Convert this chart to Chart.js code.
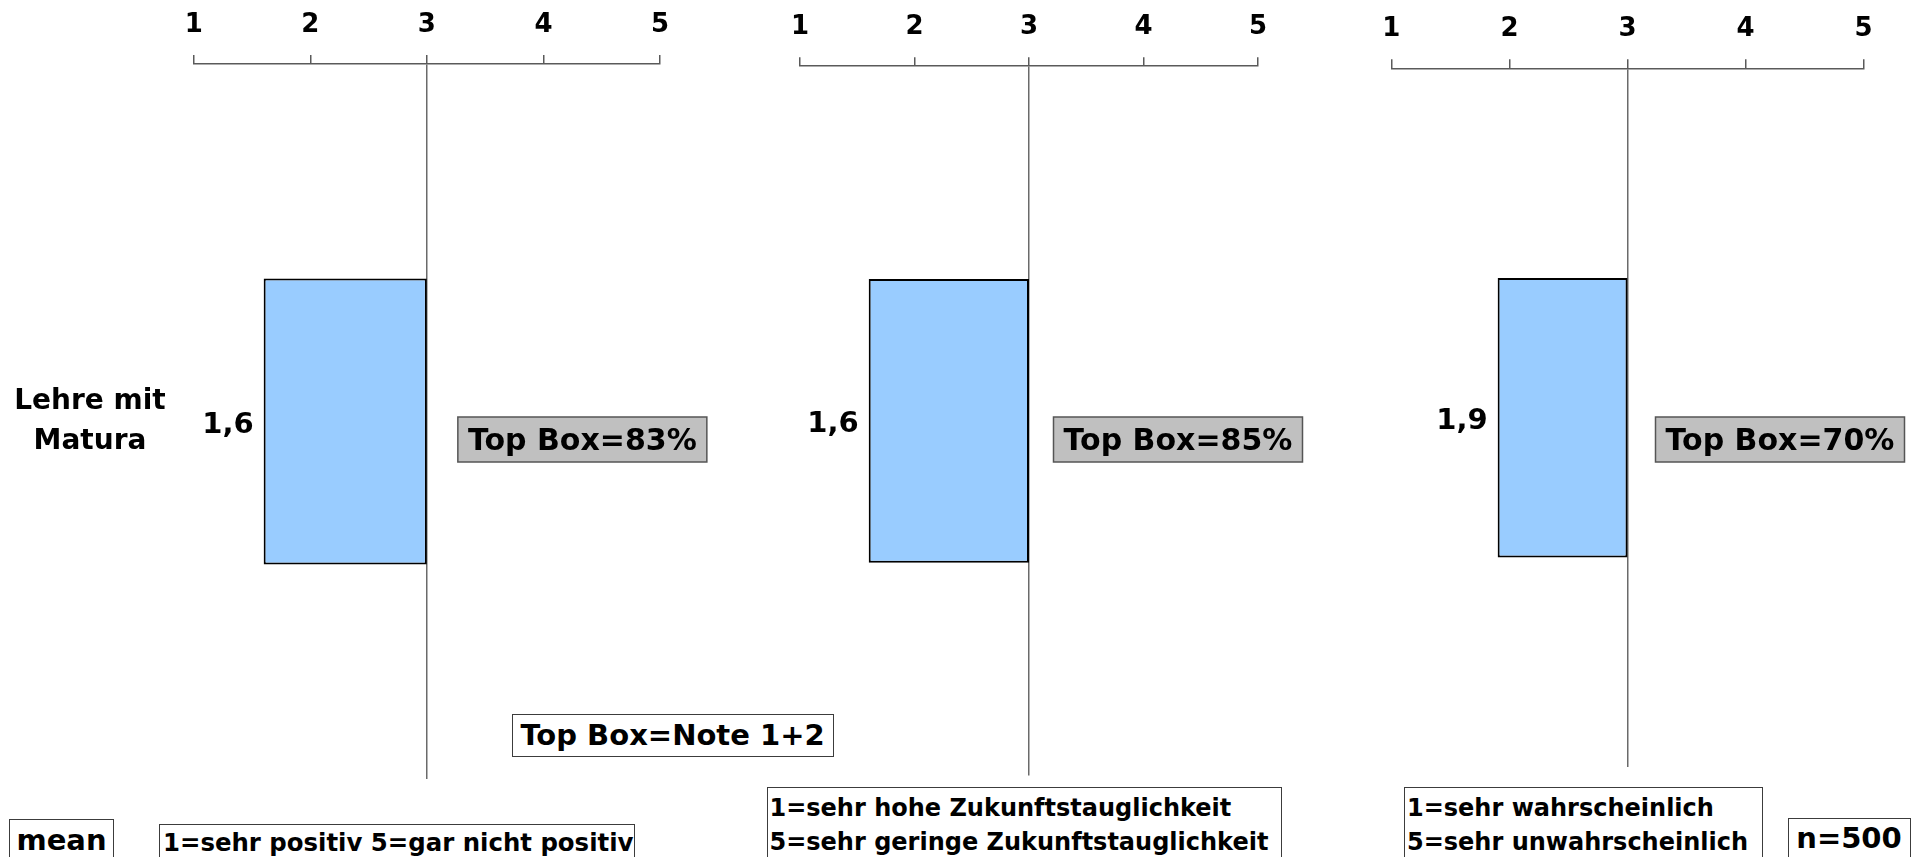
<!DOCTYPE html>
<html>
<head>
<meta charset="utf-8">
<script src="https://cdn.jsdelivr.net/npm/chart.js@4.4.1/dist/chart.umd.min.js"></script>
<style>
  html, body { margin: 0; padding: 0; background: #fff; }
  body { width: 1912px; height: 857px; overflow: hidden; position: relative;
         font-family: "DejaVu Sans", sans-serif; font-weight: bold; color: #000; }
  canvas { position: absolute; }
  .box { position: absolute; box-sizing: border-box; border: 1px solid #3c3c3c; background: #fff; }
  .txt { position: absolute; white-space: nowrap; }
</style>
</head>
<body>
<canvas id="p0"></canvas>
<canvas id="p1"></canvas>
<canvas id="p2"></canvas>
<script>
// ---- data ----
const categoryLabel = ['Lehre mit', 'Matura'];      // one category, shown on two lines
const scaleTicks = [1, 2, 3, 4, 5];                  // rating scale 1..5
const scaleMid = 3;                                  // bars run from the mean to the scale midpoint
const panelMeans = [1.6, 1.6, 1.9];                  // mean rating per question
const topBoxShares = [83, 85, 70];                   // % giving grade 1 or 2
const scaleNotes = [
  ['1=sehr positiv 5=gar nicht positiv'],
  ['1=sehr hohe Zukunftstauglichkeit', '5=sehr geringe Zukunftstauglichkeit'],
  ['1=sehr wahrscheinlich', '5=sehr unwahrscheinlich']
];
const topBoxNote = 'Top Box=Note 1+2';
const meanNote = 'mean';
const sampleNote = 'n=500';

// ---- layout of the three panels ----
const FONT = '"DejaVu Sans"';
const canvasTop = -12;   // canvases start a little above the page so the tick labels sit high
const panelLayout = [
  { left: 0,    width: 720, height: 791, padTop: 7.7,  padBottom: 0,   padLeft: 0,    padRight: 60,   yWidth: 193.7, boxGap: 31 },
  { left: 760,  width: 560, height: 788, padTop: 10.0, padBottom: 0.5, padLeft: 40,   padRight: 62,   boxGap: 24.5 },
  { left: 1350, width: 562, height: 779, padTop: 12.1, padBottom: 0,   padLeft: 41.4, padRight: 48.4, boxGap: 28 }
];
const topBoxY = 417 - canvasTop, topBoxH = 45, topBoxW = 249;

const fmt = v => v.toFixed(1).replace('.', ',');

// mean label left of each bar and the grey "Top Box" badge right of the midpoint line
const annotate = {
  id: 'annotate',
  afterDatasetsDraw(chart, args, opts) {
    const { ctx } = chart;
    const x = chart.scales.x;
    const bar = chart.getDatasetMeta(0).data[0];
    const i = opts.panel;
    const mean = panelMeans[i];
    ctx.save();
    ctx.font = 'bold 29px ' + FONT;
    ctx.fillStyle = '#000';
    ctx.textAlign = 'right';
    ctx.textBaseline = 'alphabetic';
    ctx.fillText(fmt(mean), x.getPixelForValue(mean) - 10, bar.y + 11.6);

    const label = 'Top Box=' + topBoxShares[i] + '%';
    const left = x.getPixelForValue(scaleMid) + opts.boxGap;
    ctx.fillStyle = '#c0c0c0';
    ctx.fillRect(left, topBoxY, topBoxW, topBoxH);
    ctx.strokeStyle = '#555';
    ctx.lineWidth = 1.5;
    ctx.strokeRect(left, topBoxY, topBoxW, topBoxH);
    ctx.fillStyle = '#000';
    ctx.textAlign = 'center';
    ctx.font = 'bold 30px ' + FONT;
    ctx.fillText(label, left + topBoxW / 2, topBoxY + topBoxH / 2 + 0.3645 * 30);
    ctx.restore();
  }
};

panelLayout.forEach((L, i) => {
  const cv = document.getElementById('p' + i);
  cv.width = L.width;
  cv.height = L.height;
  cv.style.left = L.left + 'px';
  cv.style.top = canvasTop + 'px';
  cv.style.width = L.width + 'px';
  cv.style.height = L.height + 'px';

  const showCategory = i === 0;
  new Chart(cv, {
    type: 'bar',
    data: {
      labels: [categoryLabel],
      datasets: [{
        data: [[panelMeans[i], scaleMid]],
        backgroundColor: '#99ccff',
        borderColor: '#000',
        borderWidth: 2,
        borderSkipped: false,
        categoryPercentage: 0.8,
        barPercentage: 0.5
      }]
    },
    plugins: [annotate],
    options: {
      indexAxis: 'y',
      responsive: false,
      maintainAspectRatio: false,
      animation: false,
      events: [],
      layout: { padding: { top: L.padTop, left: L.padLeft, right: L.padRight, bottom: L.padBottom } },
      plugins: {
        legend: { display: false },
        tooltip: { enabled: false },
        annotate: { panel: i, boxGap: L.boxGap }
      },
      scales: {
        x: {
          position: 'top',
          min: scaleTicks[0],
          max: scaleTicks[scaleTicks.length - 1],
          afterBuildTicks: s => { s.ticks = scaleTicks.map(v => ({ value: v })); },
          ticks: {
            color: '#000',
            padding: 14,
            font: { family: FONT, size: 26, weight: 'bold', lineHeight: 1.2 },
            callback: v => String(v)
          },
          grid: {
            color: c => (c.tick && c.tick.value === scaleMid) ? '#6a6a6a' : 'rgba(0,0,0,0)',
            lineWidth: 1.5,
            tickColor: '#5a5a5a',
            tickWidth: 1.5,
            tickLength: 9
          },
          border: { display: true, color: '#5a5a5a', width: 1.5 }
        },
        y: {
          display: showCategory,
          afterFit: s => {
            if (showCategory) {
              s.width = L.yWidth;
              s.paddingTop = 0;
              s.paddingBottom = 0;
            }
          },
          grid: { display: false },
          border: { display: false },
          ticks: {
            color: '#000',
            crossAlign: 'center',
            padding: 20,
            font: { family: FONT, size: 28, weight: 'bold', lineHeight: 40 / 28 }
          }
        }
      }
    }
  });
});

// ---- framed notes below the panels ----
function note(box, lines, size, baselines, textX) {
  const b = document.createElement('div');
  b.className = 'box';
  Object.assign(b.style, { left: box.x + 'px', top: box.y + 'px', width: box.w + 'px', height: box.h + 'px' });
  document.body.appendChild(b);
  const lh = Math.round(size * 1.2);
  lines.forEach((t, k) => {
    const d = document.createElement('div');
    d.className = 'txt';
    d.textContent = t;
    d.style.fontSize = size + 'px';
    d.style.lineHeight = lh + 'px';
    d.style.top = (baselines[k] - lh / 2 - 0.346 * size) + 'px';
    if (textX == null) {
      d.style.left = box.x + 'px';
      d.style.width = box.w + 'px';
      d.style.textAlign = 'center';
    } else {
      d.style.left = textX + 'px';
    }
    document.body.appendChild(d);
  });
}

note({ x: 511.5, y: 713.5, w: 322, h: 43.5 }, [topBoxNote], 29, [746]);
note({ x: 9, y: 819, w: 105, h: 60 }, [meanNote], 29, [851]);
note({ x: 159, y: 824, w: 476, h: 60 }, scaleNotes[0], 24.4, [850.5], 163);
note({ x: 766.5, y: 787, w: 515, h: 80 }, scaleNotes[1], 24, [817, 851], 769.5);
note({ x: 1403.5, y: 787, w: 359.5, h: 80 }, scaleNotes[2], 24, [817, 851], 1407);
note({ x: 1787.5, y: 818, w: 123, h: 60 }, [sampleNote], 29, [848.5]);
</script>
</body>
</html>
